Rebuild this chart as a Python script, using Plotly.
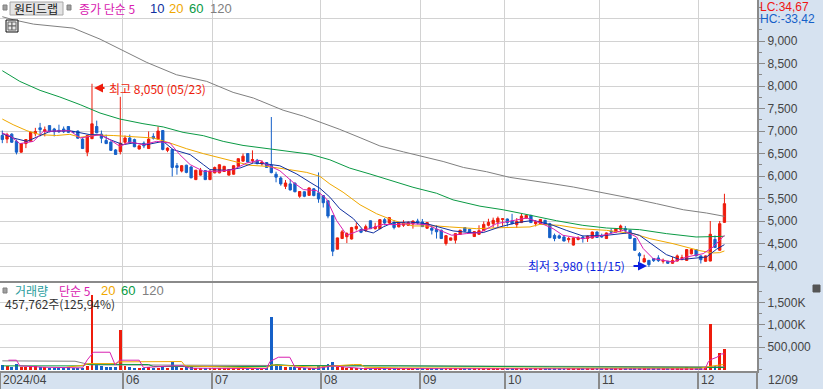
import plotly.graph_objects as go

W, H, PLOT_W, PLOT_H = 823, 389, 757, 371

candles = [
(6900,7010,6730,6810),(6820,6960,6730,6920),(6930,6950,6740,6750),(6770,6810,6480,6530),(6530,6730,6520,6720),
(6720,6810,6620,6810),(6770,6990,6760,6970),(6940,7070,6880,6990),(7070,7180,6880,7030),(6990,7100,6880,7030),
(7120,7120,6970,6985),(7045,7070,6880,6985),(7015,7140,6955,6985),(7045,7100,6955,6985),(7100,7110,6955,6970),
(6990,7000,6960,6975),(7000,7010,6830,6840),(6820,6840,6600,6610),(6530,6900,6440,6900),(6830,8050,6820,7160),
(7100,7230,6950,6960),(6930,7010,6730,6840),(6790,6920,6720,6720),(6755,6770,6560,6570),(6580,6600,6480,6480),
(6540,7760,6480,6730),(6750,6900,6700,6845),(6845,6920,6740,6750),(6810,6830,6640,6650),(6600,6680,6590,6670),
(6730,6770,6620,6670),(6610,6990,6610,6820),(6880,6950,6810,6840),(6820,7100,6810,7000),(7010,7020,6570,6590),
(6570,6640,6530,6620),(6590,6600,5990,6190),(6230,6290,6030,6190),(6110,6240,6080,6230),(6240,6250,6060,6080),
(6200,6220,5950,5960),(5920,6130,5910,6130),(6020,6180,6010,6130),(6120,6130,5910,5920),(5920,6120,5910,6110),
(6070,6210,6060,6190),(6070,6260,6060,6250),(6100,6225,6090,6215),(6020,6150,6010,6140),(6040,6240,6030,6230),
(6215,6390,6210,6385),(6330,6500,6320,6440),(6500,6510,6300,6310),(6340,6570,6290,6364),(6350,6380,6260,6275),
(6270,6350,6230,6310),(6300,6310,6180,6190),(6240,7311,6060,6075),(6040,6095,5860,5975),(5955,5990,5785,5825),
(5770,5910,5710,5845),(5825,5930,5680,5690),(5840,5860,5640,5650),(5550,5660,5515,5655),(5650,5660,5530,5550),
(5570,5745,5560,5735),(5715,5730,5550,5565),(5625,6080,5405,5490),(5565,5570,5300,5405),(5450,5460,5060,5110),
(5120,5130,4220,4330),(4375,4630,4370,4625),(4610,4800,4600,4760),(4650,4750,4510,4720),(4600,4870,4590,4855),
(4830,4965,4790,4880),(4810,4830,4730,4750),(4790,4920,4760,4875),(5005,5010,4820,4830),(4830,4960,4810,4870),
(4830,5040,4820,5030),(5030,5065,4905,4955),(4955,5085,4940,5075),(4965,5015,4815,4855),(4870,4965,4860,4955),
(4905,5020,4870,4965),(4905,4995,4895,4965),(4935,5010,4830,5000),(5000,5050,4925,4955),(4980,5045,4870,4875),
(4840,4970,4830,4965),(4840,4905,4700,4795),(4815,4905,4610,4760),(4795,4810,4600,4610),(4500,4680,4455,4675),
(4575,4630,4570,4625),(4575,4730,4500,4720),(4700,4805,4690,4795),(4855,4865,4765,4775),(4815,4825,4735,4745),
(4655,4775,4645,4765),(4705,4905,4695,4785),(4785,4990,4780,4925),(4905,5050,4880,4970),(4940,5075,4850,5015),
(4975,5100,4870,5060),(5035,5065,4890,5050),(5045,5055,4880,4965),(5000,5160,4930,4940),(4920,5065,4845,4990),
(4965,5160,4955,5110),(5065,5145,5050,5125),(5125,5140,4955,4965),(4940,5015,4880,4985),(4940,5045,4930,5035),
(5015,5025,4915,4925),(4940,4960,4620,4630),(4680,4720,4550,4610),(4670,4700,4600,4620),(4645,4690,4550,4555),
(4585,4645,4520,4610),(4465,4635,4455,4625),(4590,4660,4570,4625),(4640,4680,4520,4610),(4610,4675,4535,4665),
(4620,4765,4610,4755),(4755,4770,4625,4635),(4680,4720,4630,4645),(4610,4745,4600,4735),(4775,4830,4720,4755),
(4755,4845,4745,4830),(4815,4920,4755,4890),(4830,4890,4720,4795),(4795,4805,4600,4610),(4610,4625,4340,4350),
(4275,4310,4090,4225),(4090,4250,4080,4165),(4125,4135,3980,4030),(4165,4175,4090,4120),(4180,4240,4090,4120),
(4105,4165,4055,4125),(4105,4110,4045,4060),(4060,4200,4050,4125),(4110,4255,4100,4225),(4165,4250,4125,4185),
(4125,4375,4115,4365),(4270,4375,4260,4365),(4365,4375,4215,4225),(4225,4235,4055,4140),(4105,4235,4095,4225),
(4110,5000,4105,4705),(4590,4680,4400,4410),(4350,5000,4340,4940),(4970,5605,4960,5385),
]
opens = [c[0] for c in candles]
highs = [c[1] for c in candles]
lows = [c[2] for c in candles]
closes = [c[3] for c in candles]
idx = list(range(len(candles)))

ma120_i = [0,2.3,6.6,12.2,15,20.7,24.9,30.6,36.9,43.3,48.9,53.2,59.5,63.8,67.3,71.5,75.8,80,85,88.5,93.4,97.7,102.6,107.5,111.8,116,121,126.6,133,138.6,144.3,149.2,153]
ma120_v = [9540,9472,9375,9309,9287,9042,8820,8524,8250,8103,7858,7733,7462,7330,7198,7036,6852,6668,6536,6448,6323,6190,6095,5970,5911,5838,5755,5644,5510,5385,5250,5178,5104]
ma60_i = [0,3.7,8,12.2,16.5,20.7,24.9,29.8,34.1,38.3,42.6,46.8,51,55.3,60.2,65.2,69.4,73.6,77.9,82.1,87,92,95.5,101.2,106.1,110.4,117.4,123,128,135,140.7,147,149.9,153]
ma60_v = [8340,8103,7903,7755,7585,7400,7266,7163,7090,6970,6896,6770,6680,6620,6558,6485,6360,6176,6044,5911,5750,5617,5470,5330,5250,5160,5007,4904,4845,4808,4720,4645,4645,4660]
ma20_i = [0,2.3,5.2,8,11.5,14.3,16.5,20,23.5,27.8,32,35.5,39,42.6,46,49.6,52.5,56,60.9,64.5,67.3,69.4,72.2,75.8,79.3,82.8,87,92,94.8,100.5,106.1,111.8,113.9,118,122.4,128,133.7,137.2,142.1,147.8,150.6,152,153]
ma20_v = [7266,7140,7007,6918,6900,6926,6860,6910,6900,6866,6845,6734,6608,6497,6400,6312,6238,6215,6140,6080,5992,5823,5640,5360,5162,5015,4890,4890,4868,4830,4853,4868,4926,4904,4830,4793,4720,4608,4497,4341,4290,4297,4334]
ma10_i = [0,2.3,5.2,7.3,10.1,14.3,16.5,18.6,20.7,22.8,25.6,27.8,30.6,34.1,36.2,39.8,42.6,44,47.5,50.4,53.2,56,58.8,62.4,65.2,67.3,69.4,71.5,74.4,76.5,78.6,80.7,82.8,86.4,89.9,92.7,95.5,99.1,101.9,105.4,109,112.5,116.7,119.5,123,128,133,135,137.9,140.7,143.6,146.4,149.2,151.3,153]
ma10_v = [6940,6845,6770,6866,6992,7007,6956,6918,6918,6808,6697,6734,6697,6770,6586,6475,6253,6142,6127,6179,6290,6267,6227,6044,5860,5727,5530,5272,5051,4794,4735,4868,4963,4978,4941,4868,4780,4743,4743,4868,4963,5015,4904,4793,4667,4682,4740,4682,4460,4253,4142,4164,4200,4371,4475]
ma5_i = [0,1.8,3.7,6.6,8.7,11.5,14.3,16.5,18.6,20.7,22.8,24.9,27,29.9,32.7,35.5,37.6,39.8,42.6,46,48.9,51.8,54.6,56,58.8,61.6,63.8,66.6,68.7,70.8,73,75.8,77.9,80.7,82.8,86.4,89.9,92.7,95.2,98.4,101.2,104.7,107.5,111.1,113.9,116.7,118.8,123,127.3,131.6,134.4,135.8,137.9,142.1,145,148.5,150.6,153]
ma5_v = [6956,6882,6720,6770,6993,6993,7007,6845,6882,6918,6808,6660,6756,6697,6770,6734,6475,6253,6105,6105,6142,6290,6349,6253,6117,5860,5698,5676,5492,5015,4684,4794,4830,4926,4919,4941,4919,4794,4684,4721,4743,4941,4993,5066,4963,4830,4682,4608,4682,4793,4645,4386,4164,4090,4201,4275,4423,4682]

volumes = [104,90,60,127,60,52,75,75,52,52,30,22,30,45,52,30,30,37,82,1670,112,75,67,60,52,890,75,60,45,37,30,67,37,45,90,45,179,67,45,52,
 52,37,37,30,37,30,30,30,30,37,30,30,30,37,22,22,30,1186,112,90,52,67,52,37,37,30,30,90,90,127,179,67,52,37,30,37,30,30,30,22,
 22,22,15,15,22,15,15,15,15,15,15,22,15,15,22,15,15,15,15,15,22,15,15,15,15,15,15,15,15,15,15,15,15,15,15,22,15,15,15,15,
 15,22,15,15,15,15,15,15,22,15,22,37,22,15,15,22,22,15,15,15,22,15,22,15,22,60,22,15,22,30,1022,90,373,457.762]
volumes = [v * 1000 for v in volumes]

vma5_i = [1.3,3,3.7,8.7,17,18,19.3,22.8,23.9,24.8,29,29.9,36.2,38.3,39.8,56,56.7,58.5,60.9,62,66.6,70,73,76.5,148.9,149.6,150.3,151.4,152.4,153]
vma5_v = [209,209,82,52,37,216,388,388,104,209,209,45,82,82,30,22,179,276,276,52,22,82,52,22,10,179,231,276,350,350]
vma20_i = [13.6,17.2,18.2,22,23.9,24.8,35.5,38,38.7,44.7,56,57,61.7,66.6,74.4,76,76.8,84,116,147.9,149.6,152.8]
vma20_v = [52,97,134,134,134,172,179,179,82,67,30,104,82,52,112,112,52,37,30,30,67,112]
vma60_i = [0,17,17.9,27.4,31,32,56,58,61,75,84,116,133.7,147.9,153]
vma60_v = [82,82,119,112,112,67,67,112,90,82,82,60,45,45,45]
vma120_i = [0,15.4,17.2,18.5,39,66.6,87.5,116,138,153]
vma120_v = [194,186,142,105,97,90,82,67,67,60]

price_ticks = [4000,4500,5000,5500,6000,6500,7000,7500,8000,8500,9000,9500]
price_labels = ["4,000","4,500","5,000","5,500","6,000","6,500","7,000","7,500","8,000","8,500","9,000",""]
vol_ticks = [500000,1000000,1500000]
vol_labels = ["500,000","1,000K","1,500K"]
month_ticks = [-0.45,25.5,44.5,67.5,88.5,106.5,126.5,147.5]
month_labels = ["2024/04","06","07","08","09","10","11","12"]

RED, BLUE, NAVY, MAG, ORG, GRN, GRY = "#ee1c0c", "#1560c8", "#1030a0", "#d820b0", "#f0a800", "#0a9a44", "#808080"
GRID, FRAME, STRIP, TXT = "#d2d2d2", "#8a8a8a", "#d6e2f0", "#444444"
FONT = "Liberation Sans, Noto Sans CJK KR, sans-serif"
KFONT = "Noto Sans CJK KR, sans-serif"

def px(x): return x / PLOT_W
def py(y): return 1 - y / PLOT_H

fig = go.Figure()
vol_col = [RED if c >= o else BLUE for o, c in zip(opens, closes)]
fig.add_bar(x=idx, y=volumes, marker=dict(color=vol_col, line_width=0), width=0.62, xaxis="x", yaxis="y2")
for xs, ys, col in [(vma120_i,vma120_v,GRY),(vma60_i,vma60_v,GRN),(vma20_i,vma20_v,ORG),(vma5_i,vma5_v,MAG)]:
    fig.add_scatter(x=xs, y=[v*1000 for v in ys], mode="lines", line=dict(color=col, width=1), xaxis="x", yaxis="y2")
fig.add_candlestick(x=idx, open=opens, high=highs, low=lows, close=closes, whiskerwidth=0,
    increasing=dict(line=dict(color=RED, width=1), fillcolor=RED),
    decreasing=dict(line=dict(color=BLUE, width=1), fillcolor=BLUE), xaxis="x2", yaxis="y")
for xs, ys, col in [(ma120_i,ma120_v,GRY),(ma60_i,ma60_v,GRN),(ma20_i,ma20_v,ORG),(ma10_i,ma10_v,NAVY),(ma5_i,ma5_v,MAG)]:
    fig.add_scatter(x=xs, y=ys, mode="lines", line=dict(color=col, width=1), xaxis="x2", yaxis="y")

ann = []
def label(x, y, text, color, size=12, family=KFONT, anchor="left"):
    ann.append(dict(xref="paper", yref="paper", x=px(x), y=py(y), text=text, showarrow=False, xanchor=anchor,
                    yanchor="middle", borderpad=0, font=dict(color=color, size=size, family=family)))

label(13, 8.5, "원티드랩", "#222222")
label(78, 8, "종가 단순 5", MAG)
label(149, 8, "10", NAVY, 13, FONT)
label(168, 8, "20", ORG, 13, FONT)
label(188, 8, "60", GRN, 13, FONT)
label(209, 8, "120", GRY, 13, FONT)
label(759, 7, "LC:34,67", "#f01414", 12, FONT)
label(759, 19, "HC:-33,42", BLUE, 12, FONT)
label(14, 290, "거래량", "#2a9d9d")
label(58, 290, "단순 5", MAG)
label(100, 290, "20", ORG, 13, FONT)
label(120, 290, "60", GRN, 13, FONT)
label(141, 290, "120", GRY, 13, FONT)
label(4, 303, "457,762주(125,94%)", "#333333")
label(108, 88, "최고 8,050 (05/23)", RED)
label(527, 265, "최저 3,980 (11/15)", "#0a1ee0")
label(767, 380, "12/09", TXT, 12, FONT)
for t, s in zip(month_ticks, month_labels):
    ann.append(dict(xref="x", yref="paper", x=t, y=py(380), xshift=2, text=s, showarrow=False, xanchor="left",
                    yanchor="middle", borderpad=0, font=dict(color=TXT, size=12, family=FONT)))
# high / low arrows
ann.append(dict(xref="paper", yref="paper", x=px(94), y=py(88), axref="pixel", ayref="pixel", ax=12, ay=0, text="",
                showarrow=True, arrowhead=2, arrowsize=0.9, arrowwidth=2, arrowcolor=RED))
ann.append(dict(xref="paper", yref="paper", x=px(647), y=py(266), axref="pixel", ayref="pixel", ax=-15, ay=0, text="",
                showarrow=True, arrowhead=2, arrowsize=0.9, arrowwidth=2, arrowcolor="#0a1ee0"))

def rect(x0, y0, x1, y1, fill, line=None, lw=1):
    return dict(type="rect", xref="paper", yref="paper", x0=px(x0), x1=px(x1), y0=py(y0), y1=py(y1),
                fillcolor=fill, line=dict(color=line or fill, width=lw))
shapes = [
    rect(10, 2, 63, 15, "#e4e4e4", "#a8a8a8"),
    rect(3, 5, 7, 10, "#a0a0a0", "#808080"),
    rect(67, 5, 71, 10, "#a0a0a0", "#808080"),
    rect(3, 288, 7, 293, "#a0a0a0", "#808080"),
    rect(6, 20, 18, 32, "#e8e8e8", "#111111"),
    rect(8, 22, 12, 26, "#e8e8e8", "#666666"),
    rect(12, 22, 16, 26, "#e8e8e8", "#666666"),
    rect(8, 26, 12, 30, "#e8e8e8", "#666666"),
    rect(12, 26, 16, 30, "#e8e8e8", "#666666"),
    rect(813, 285, 820, 292, "#555555"),
    dict(type="line", xref="paper", yref="paper", x0=px(757), x1=px(757), y0=py(371), y1=py(389),
         line=dict(color=FRAME, width=2)),
]

fig.update_layout(
    width=W, height=H, margin=dict(l=0, r=W-PLOT_W, t=0, b=H-PLOT_H, autoexpand=False),
    paper_bgcolor=STRIP, plot_bgcolor="white", showlegend=False, bargap=0, annotations=ann, shapes=shapes,
    hovermode=False,
    xaxis=dict(domain=[0,1], range=[-0.49,159.9], anchor="y2", tickmode="array", tickvals=month_ticks, showticklabels=False,
               ticks="outside", ticklen=18, tickwidth=2, tickcolor=FRAME, showgrid=True, gridcolor=GRID, gridwidth=1,
               showline=True, linecolor=FRAME, linewidth=2, zeroline=False),
    xaxis2=dict(domain=[0,1], range=[-0.49,159.9], anchor="y", tickmode="array", tickvals=month_ticks, showticklabels=False,
                ticks="", showgrid=True, gridcolor=GRID, gridwidth=1, showline=True, linecolor=FRAME, linewidth=2,
                zeroline=False, rangeslider=dict(visible=False)),
    yaxis=dict(domain=[py(281),1], range=[3667,9911], side="right", anchor="x2", tickmode="array", tickvals=price_ticks,
               ticktext=price_labels, ticks="outside", ticklen=6, tickwidth=1, tickcolor=FRAME,
               minor=dict(tickmode="array", tickvals=[v+250 for v in price_ticks], ticks="outside", ticklen=3, tickcolor=FRAME, showgrid=False),
               showgrid=True, gridcolor=GRID, gridwidth=1, showline=True, linecolor=FRAME, linewidth=2, zeroline=False,
               tickfont=dict(color=TXT, size=12, family=FONT)),
    yaxis2=dict(domain=[0,py(282)], range=[-33000,1962000], side="right", anchor="x", tickmode="array", tickvals=vol_ticks,
                ticktext=vol_labels, ticks="outside", ticklen=6, tickwidth=1, tickcolor=FRAME,
                minor=dict(tickmode="array", tickvals=[0,250000,750000,1250000,1750000], ticks="outside", ticklen=3, tickcolor=FRAME, showgrid=False),
                showgrid=True, gridcolor=GRID, gridwidth=1, showline=True, linecolor=FRAME, linewidth=2, zeroline=False,
                tickfont=dict(color=TXT, size=12, family=FONT)),
)
fig.write_html("out.html", config={"displayModeBar": False},
               post_script="document.body.style.margin='0';document.body.style.overflow='hidden';")
